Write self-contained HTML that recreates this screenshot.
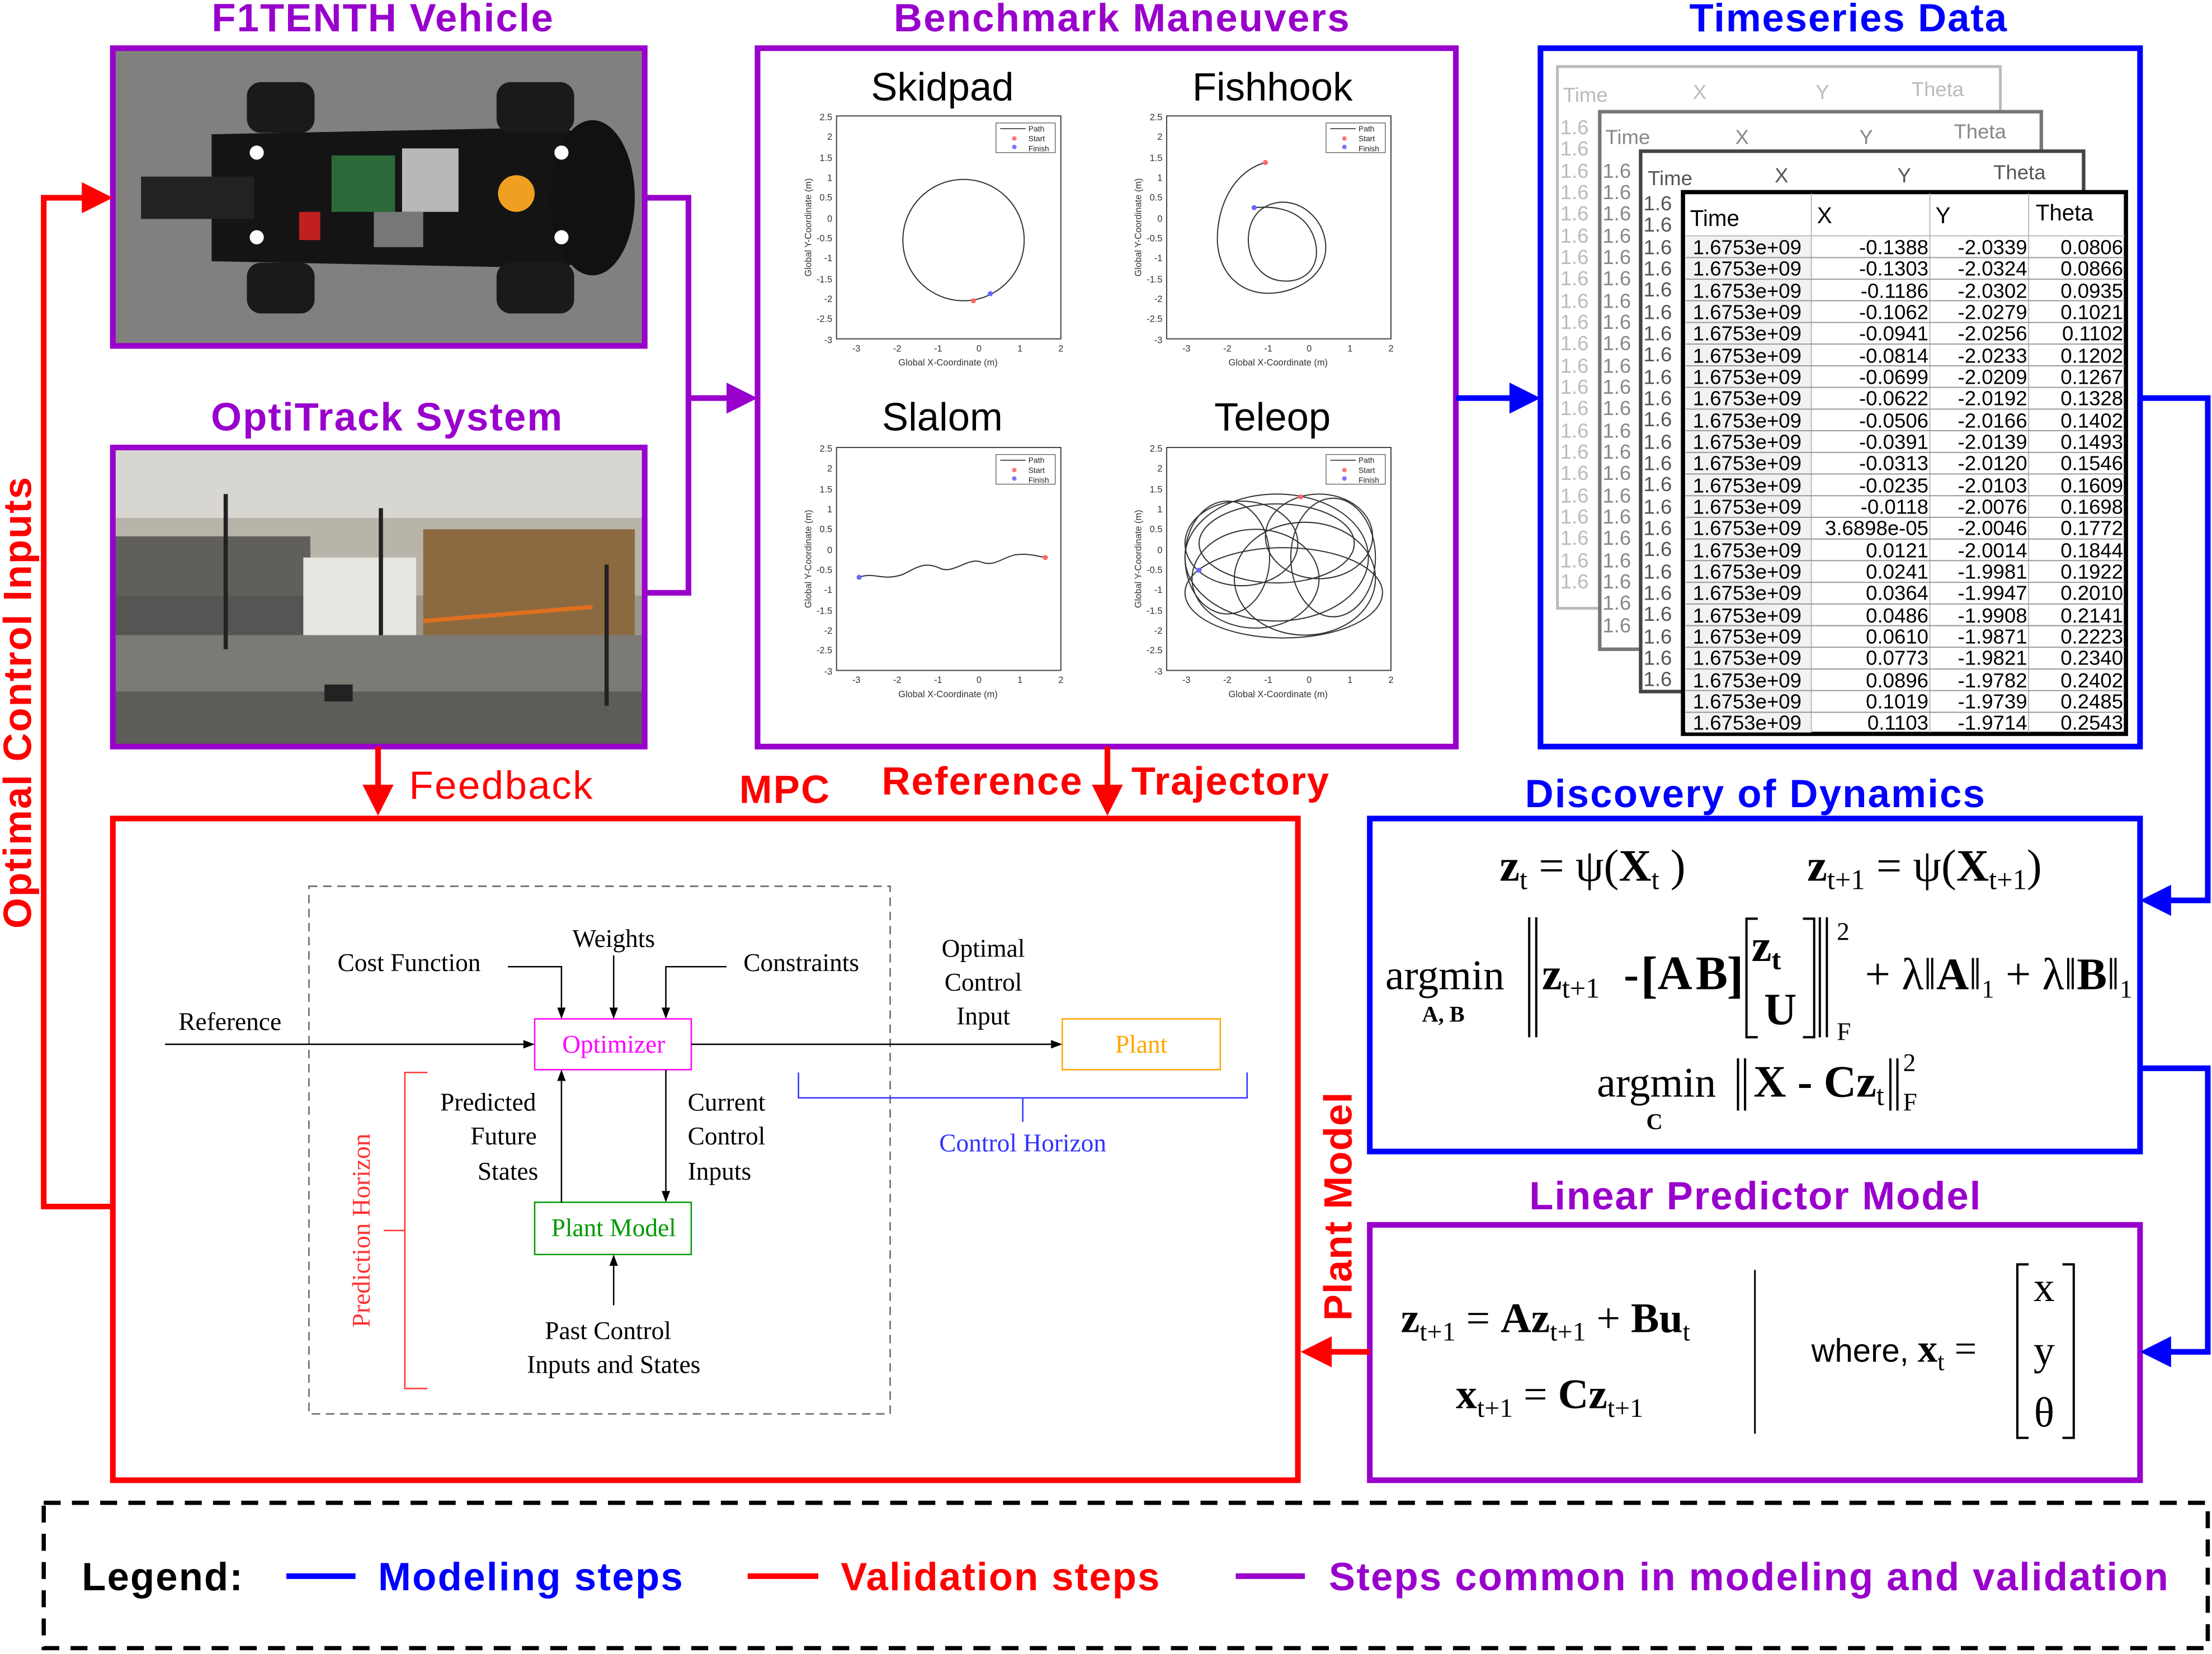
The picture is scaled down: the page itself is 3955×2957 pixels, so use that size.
<!DOCTYPE html>
<html><head><meta charset="utf-8">
<style>
html,body{margin:0;padding:0;background:#fff;}
svg{display:block;}
.t{font-family:"Liberation Sans",sans-serif;font-weight:bold;font-size:28px;text-anchor:middle;}
.s{font-family:"Liberation Serif",serif;}
.m{font-family:"Liberation Serif",serif;font-size:18px;}
.tb{font-family:"Liberation Sans",sans-serif;font-size:14.5px;}
.ax{font-family:"Liberation Sans",sans-serif;font-size:6.5px;fill:#333;}
</style></head>
<body>
<svg width="3955" height="2957" viewBox="0 0 1568 1172" xmlns="http://www.w3.org/2000/svg">
<rect width="1568" height="1172" fill="#fff"/>

<!-- Titles -->
<text class="t" x="271" y="22" fill="#9900cc" textLength="242">F1TENTH Vehicle</text>
<text class="t" x="274" y="305" fill="#9900cc" textLength="249">OptiTrack System</text>
<text class="t" x="795" y="22" fill="#9900cc" textLength="323">Benchmark Maneuvers</text>
<text class="t" x="1310" y="22" fill="#0000ff" textLength="225">Timeseries Data</text>
<text class="t" x="1244" y="572" fill="#0000ff" textLength="326">Discovery of Dynamics</text>
<text class="t" x="1244" y="857" fill="#9900cc" textLength="320">Linear Predictor Model</text>
<text class="t" x="556" y="569" fill="#ff0000" textLength="64">MPC</text>
<text x="290" y="566" fill="#ff0000" font-family="Liberation Sans,sans-serif" font-size="28" textLength="130">Feedback</text>
<text x="625" y="563" fill="#ff0000" font-family="Liberation Sans,sans-serif" font-weight="bold" font-size="28" textLength="142">Reference</text>
<text x="802" y="563" fill="#ff0000" font-family="Liberation Sans,sans-serif" font-weight="bold" font-size="28" textLength="140">Trajectory</text>
<text class="t" transform="translate(958,855) rotate(-90)" fill="#ff0000" textLength="162">Plant Model</text>
<text class="t" transform="translate(22,498) rotate(-90)" fill="#ff0000" textLength="320">Optimal Control Inputs</text>

<!-- F1TENTH photo -->
<g>
<rect x="80" y="34" width="377" height="211" fill="#8a8987"/>
<rect x="80" y="34" width="377" height="211" fill="#6f6e6c" opacity="0.3"/>
<path d="M150 95 L400 90 L445 115 L445 165 L400 190 L150 185 Z" fill="#141414"/>
<ellipse cx="420" cy="140" rx="30" ry="55" fill="#111"/>
<rect x="175" y="58" width="48" height="36" rx="10" fill="#1a1a1a"/>
<rect x="352" y="58" width="55" height="36" rx="10" fill="#1a1a1a"/>
<rect x="175" y="186" width="48" height="36" rx="10" fill="#1a1a1a"/>
<rect x="352" y="186" width="55" height="36" rx="10" fill="#1a1a1a"/>
<rect x="100" y="125" width="80" height="30" fill="#222"/>
<rect x="235" y="110" width="45" height="40" fill="#2d6a3a"/>
<rect x="285" y="105" width="40" height="45" fill="#b8b8b8"/>
<rect x="265" y="150" width="35" height="25" fill="#777"/>
<circle cx="366" cy="137" r="13" fill="#f0a020"/>
<circle cx="182" cy="108" r="5" fill="#fff"/><circle cx="182" cy="168" r="5" fill="#fff"/>
<circle cx="398" cy="108" r="5" fill="#fff"/><circle cx="398" cy="168" r="5" fill="#fff"/>
<rect x="212" y="150" width="15" height="20" fill="#c02020"/>
</g>
<rect x="80" y="34" width="377" height="211" fill="none" stroke="#9900cc" stroke-width="4"/>

<!-- OptiTrack photo -->
<g>
<rect x="80" y="317" width="377" height="212" fill="#9a958c"/>
<rect x="80" y="317" width="377" height="50" fill="#d8d6d0"/>
<rect x="80" y="367" width="377" height="55" fill="#b9b4aa"/>
<rect x="80" y="380" width="140" height="70" fill="#3a3a3a" opacity="0.7"/>
<rect x="300" y="375" width="150" height="90" fill="#8c6a40"/>
<rect x="215" y="395" width="80" height="55" fill="#e8e6e0"/>
<rect x="80" y="450" width="377" height="79" fill="#7c7a75"/>
<rect x="80" y="490" width="377" height="39" fill="#5e5c58"/>
<rect x="230" y="485" width="20" height="12" fill="#222"/>
<line x1="160" y1="350" x2="160" y2="460" stroke="#222" stroke-width="3"/>
<line x1="430" y1="400" x2="430" y2="500" stroke="#222" stroke-width="3"/>
<line x1="270" y1="360" x2="270" y2="450" stroke="#222" stroke-width="3"/>
<line x1="300" y1="440" x2="420" y2="430" stroke="#e07020" stroke-width="3"/>
</g>
<rect x="80" y="317" width="377" height="212" fill="none" stroke="#9900cc" stroke-width="4"/>

<!-- Benchmark box -->
<rect x="537" y="34" width="495" height="495" fill="#fff" stroke="#9900cc" stroke-width="4"/>
<g font-family="Liberation Sans,sans-serif" font-size="28" text-anchor="middle">
<text x="668" y="71">Skidpad</text><text x="902" y="71">Fishhook</text>
<text x="668" y="305">Slalom</text><text x="902" y="305">Teleop</text>
</g>
<g fill="none" stroke="#444" stroke-width="0.8">
<rect x="593" y="82" width="159" height="158"/>
<rect x="827" y="82" width="159" height="158"/>
<rect x="593" y="317" width="159" height="158"/>
<rect x="827" y="317" width="159" height="158"/>
</g>
<g class="ax" text-anchor="middle">
<text x="607" y="249">-3</text><text x="636" y="249">-2</text><text x="665" y="249">-1</text><text x="694" y="249">0</text><text x="723" y="249">1</text><text x="752" y="249">2</text>
<text x="672" y="259">Global X-Coordinate (m)</text>
<text x="841" y="249">-3</text><text x="870" y="249">-2</text><text x="899" y="249">-1</text><text x="928" y="249">0</text><text x="957" y="249">1</text><text x="986" y="249">2</text>
<text x="906" y="259">Global X-Coordinate (m)</text>
<text x="607" y="484">-3</text><text x="636" y="484">-2</text><text x="665" y="484">-1</text><text x="694" y="484">0</text><text x="723" y="484">1</text><text x="752" y="484">2</text>
<text x="672" y="494">Global X-Coordinate (m)</text>
<text x="841" y="484">-3</text><text x="870" y="484">-2</text><text x="899" y="484">-1</text><text x="928" y="484">0</text><text x="957" y="484">1</text><text x="986" y="484">2</text>
<text x="906" y="494">Global X-Coordinate (m)</text>
<text transform="translate(575,161) rotate(-90)">Global Y-Coordinate (m)</text>
<text transform="translate(809,161) rotate(-90)">Global Y-Coordinate (m)</text>
<text transform="translate(575,396) rotate(-90)">Global Y-Coordinate (m)</text>
<text transform="translate(809,396) rotate(-90)">Global Y-Coordinate (m)</text>
</g>
<g class="ax" text-anchor="end">
<text x="590" y="85">2.5</text><text x="590" y="99">2</text><text x="590" y="114">1.5</text><text x="590" y="128">1</text><text x="590" y="142">0.5</text><text x="590" y="157">0</text><text x="590" y="171">-0.5</text><text x="590" y="185">-1</text><text x="590" y="200">-1.5</text><text x="590" y="214">-2</text><text x="590" y="228">-2.5</text><text x="590" y="243">-3</text>
<text x="824" y="85">2.5</text><text x="824" y="99">2</text><text x="824" y="114">1.5</text><text x="824" y="128">1</text><text x="824" y="142">0.5</text><text x="824" y="157">0</text><text x="824" y="171">-0.5</text><text x="824" y="185">-1</text><text x="824" y="200">-1.5</text><text x="824" y="214">-2</text><text x="824" y="228">-2.5</text><text x="824" y="243">-3</text>
<text x="590" y="320">2.5</text><text x="590" y="334">2</text><text x="590" y="349">1.5</text><text x="590" y="363">1</text><text x="590" y="377">0.5</text><text x="590" y="392">0</text><text x="590" y="406">-0.5</text><text x="590" y="420">-1</text><text x="590" y="435">-1.5</text><text x="590" y="449">-2</text><text x="590" y="463">-2.5</text><text x="590" y="478">-3</text>
<text x="824" y="320">2.5</text><text x="824" y="334">2</text><text x="824" y="349">1.5</text><text x="824" y="363">1</text><text x="824" y="377">0.5</text><text x="824" y="392">0</text><text x="824" y="406">-0.5</text><text x="824" y="420">-1</text><text x="824" y="435">-1.5</text><text x="824" y="449">-2</text><text x="824" y="463">-2.5</text><text x="824" y="478">-3</text>
</g>
<g font-family="Liberation Sans,sans-serif" font-size="5.5" fill="#222">
<g><rect x="706" y="87" width="42" height="21" fill="#fff" stroke="#555" stroke-width="0.5"/><line x1="709" y1="91" x2="727" y2="91" stroke="#222" stroke-width="0.6"/><text x="729" y="93">Path</text><circle cx="719" cy="98" r="1.6" fill="#f77"/><text x="729" y="100">Start</text><circle cx="719" cy="104" r="1.6" fill="#77f"/><text x="729" y="107">Finish</text></g>
<g transform="translate(234,0)"><rect x="706" y="87" width="42" height="21" fill="#fff" stroke="#555" stroke-width="0.5"/><line x1="709" y1="91" x2="727" y2="91" stroke="#222" stroke-width="0.6"/><text x="729" y="93">Path</text><circle cx="719" cy="98" r="1.6" fill="#f77"/><text x="729" y="100">Start</text><circle cx="719" cy="104" r="1.6" fill="#77f"/><text x="729" y="107">Finish</text></g>
<g transform="translate(0,235)"><rect x="706" y="87" width="42" height="21" fill="#fff" stroke="#555" stroke-width="0.5"/><line x1="709" y1="91" x2="727" y2="91" stroke="#222" stroke-width="0.6"/><text x="729" y="93">Path</text><circle cx="719" cy="98" r="1.6" fill="#f77"/><text x="729" y="100">Start</text><circle cx="719" cy="104" r="1.6" fill="#77f"/><text x="729" y="107">Finish</text></g>
<g transform="translate(234,235)"><rect x="706" y="87" width="42" height="21" fill="#fff" stroke="#555" stroke-width="0.5"/><line x1="709" y1="91" x2="727" y2="91" stroke="#222" stroke-width="0.6"/><text x="729" y="93">Path</text><circle cx="719" cy="98" r="1.6" fill="#f77"/><text x="729" y="100">Start</text><circle cx="719" cy="104" r="1.6" fill="#77f"/><text x="729" y="107">Finish</text></g>
</g>
<g fill="none" stroke="#333" stroke-width="0.8">
<circle cx="683" cy="170" r="43"/>
<path d="M897 115 C872 122 862 150 863 172 C865 200 888 214 915 205 C938 197 945 178 936 160 C926 142 905 138 892 150 C878 165 885 198 910 199 C926 200 937 188 932 170 C927 153 912 145 889 147"/>
<path d="M609 409 C620 405 625 412 640 407 C650 402 655 398 665 402 C675 408 685 395 695 398 C705 402 710 395 720 393 C730 392 735 394 741 395"/>
<ellipse cx="880" cy="385" rx="40" ry="30"/><ellipse cx="935" cy="380" rx="38" ry="30"/>
<ellipse cx="905" cy="395" rx="65" ry="45"/><ellipse cx="890" cy="410" rx="45" ry="35"/>
<ellipse cx="925" cy="410" rx="50" ry="40"/><ellipse cx="870" cy="395" rx="30" ry="40"/>
<ellipse cx="945" cy="395" rx="30" ry="42"/><ellipse cx="905" cy="385" rx="55" ry="28"/>
<ellipse cx="910" cy="420" rx="70" ry="32"/>
</g>
<g>
<circle cx="690" cy="213" r="1.8" fill="#f66"/><circle cx="702" cy="208" r="1.8" fill="#66f"/>
<circle cx="897" cy="115" r="1.8" fill="#f66"/><circle cx="889" cy="147" r="1.8" fill="#66f"/>
<circle cx="741" cy="395" r="1.8" fill="#f66"/><circle cx="609" cy="409" r="1.8" fill="#66f"/>
<circle cx="922" cy="352" r="1.8" fill="#f66"/><circle cx="850" cy="404" r="1.8" fill="#66f"/>
</g>

<!-- Timeseries box -->
<rect x="1092" y="34" width="425" height="495" fill="#fff" stroke="#0000ff" stroke-width="4"/>
<rect x="1104" y="47" width="314" height="384" fill="#fff" stroke="#bbb" stroke-width="2"/>
<g class="tb" fill="#bbb"><text x="1108" y="72">Time</text><text x="1200" y="70">X</text><text x="1287" y="70">Y</text><text x="1355" y="68">Theta</text>
<text x="1106" y="95">1.6</text><text x="1106" y="110">1.6</text><text x="1106" y="126">1.6</text><text x="1106" y="141">1.6</text><text x="1106" y="156">1.6</text><text x="1106" y="172">1.6</text><text x="1106" y="187">1.6</text><text x="1106" y="202">1.6</text><text x="1106" y="218">1.6</text><text x="1106" y="233">1.6</text><text x="1106" y="248">1.6</text><text x="1106" y="264">1.6</text><text x="1106" y="279">1.6</text><text x="1106" y="294">1.6</text><text x="1106" y="310">1.6</text><text x="1106" y="325">1.6</text><text x="1106" y="340">1.6</text><text x="1106" y="356">1.6</text><text x="1106" y="371">1.6</text><text x="1106" y="386">1.6</text><text x="1106" y="402">1.6</text><text x="1106" y="417">1.6</text>
<text x="1140" y="95">753e+09</text><text x="1230" y="95">-0.1388</text><text x="1295" y="95">-2.0339</text><text x="1370" y="95">0.0806</text></g>
<rect x="1134" y="79" width="313" height="381" fill="#fff" stroke="#777" stroke-width="2.5"/>
<g class="tb" fill="#888"><text x="1138" y="102">Time</text><text x="1230" y="102">X</text><text x="1318" y="102">Y</text><text x="1385" y="98">Theta</text>
<text x="1136" y="126">1.6</text><text x="1136" y="141">1.6</text><text x="1136" y="156">1.6</text><text x="1136" y="172">1.6</text><text x="1136" y="187">1.6</text><text x="1136" y="202">1.6</text><text x="1136" y="218">1.6</text><text x="1136" y="233">1.6</text><text x="1136" y="248">1.6</text><text x="1136" y="264">1.6</text><text x="1136" y="279">1.6</text><text x="1136" y="294">1.6</text><text x="1136" y="310">1.6</text><text x="1136" y="325">1.6</text><text x="1136" y="340">1.6</text><text x="1136" y="356">1.6</text><text x="1136" y="371">1.6</text><text x="1136" y="386">1.6</text><text x="1136" y="402">1.6</text><text x="1136" y="417">1.6</text><text x="1136" y="432">1.6</text><text x="1136" y="448">1.6</text>
<text x="1170" y="126">753e+09</text><text x="1260" y="126">-0.1388</text><text x="1325" y="126">-2.0339</text></g>
<rect x="1163" y="107" width="314" height="383" fill="#fff" stroke="#444" stroke-width="2.5"/>
<g class="tb" fill="#555"><text x="1168" y="131">Time</text><text x="1258" y="129">X</text><text x="1345" y="129">Y</text><text x="1413" y="127">Theta</text>
<text x="1165" y="149">1.6</text><text x="1165" y="164">1.6</text><text x="1165" y="180">1.6</text><text x="1165" y="195">1.6</text><text x="1165" y="210">1.6</text><text x="1165" y="226">1.6</text><text x="1165" y="241">1.6</text><text x="1165" y="256">1.6</text><text x="1165" y="272">1.6</text><text x="1165" y="287">1.6</text><text x="1165" y="302">1.6</text><text x="1165" y="318">1.6</text><text x="1165" y="333">1.6</text><text x="1165" y="348">1.6</text><text x="1165" y="364">1.6</text><text x="1165" y="379">1.6</text><text x="1165" y="394">1.6</text><text x="1165" y="410">1.6</text><text x="1165" y="425">1.6</text><text x="1165" y="440">1.6</text><text x="1165" y="456">1.6</text><text x="1165" y="471">1.6</text><text x="1165" y="486">1.6</text></g>
<rect x="1193" y="136" width="314" height="384" fill="#fff" stroke="#000" stroke-width="3"/>
<rect x="1195" y="167" width="89" height="352" fill="#f2f2f2"/>
<g stroke="#bbb" stroke-width="0.8">
<line x1="1284" y1="137" x2="1284" y2="519"/><line x1="1368" y1="137" x2="1368" y2="519"/><line x1="1438" y1="137" x2="1438" y2="519"/>
<line x1="1195" y1="167" x2="1506" y2="167"/>
</g>
<g stroke="#999" stroke-width="0.8">
<line x1="1195" y1="182.4" x2="1506" y2="182.4"/><line x1="1195" y1="197.7" x2="1506" y2="197.7"/><line x1="1195" y1="213" x2="1506" y2="213"/><line x1="1195" y1="228.4" x2="1506" y2="228.4"/><line x1="1195" y1="243.7" x2="1506" y2="243.7"/><line x1="1195" y1="259.1" x2="1506" y2="259.1"/><line x1="1195" y1="274.4" x2="1506" y2="274.4"/><line x1="1195" y1="289.8" x2="1506" y2="289.8"/><line x1="1195" y1="305.1" x2="1506" y2="305.1"/><line x1="1195" y1="320.5" x2="1506" y2="320.5"/><line x1="1195" y1="335.8" x2="1506" y2="335.8"/><line x1="1195" y1="351.2" x2="1506" y2="351.2"/><line x1="1195" y1="366.5" x2="1506" y2="366.5"/><line x1="1195" y1="381.9" x2="1506" y2="381.9"/><line x1="1195" y1="397.2" x2="1506" y2="397.2"/><line x1="1195" y1="412.6" x2="1506" y2="412.6"/><line x1="1195" y1="427.9" x2="1506" y2="427.9"/><line x1="1195" y1="443.3" x2="1506" y2="443.3"/><line x1="1195" y1="458.6" x2="1506" y2="458.6"/><line x1="1195" y1="474" x2="1506" y2="474"/><line x1="1195" y1="489.3" x2="1506" y2="489.3"/><line x1="1195" y1="504.7" x2="1506" y2="504.7"/>
</g>
<g class="tb" fill="#000">
<text x="1198" y="160" font-size="16">Time</text><text x="1288" y="158" font-size="16">X</text><text x="1372" y="158" font-size="16">Y</text><text x="1443" y="156" font-size="16">Theta</text>
</g>
<g class="tb" fill="#000">
<g><text x="1200" y="180">1.6753e+09</text><text x="1200" y="195">1.6753e+09</text><text x="1200" y="211">1.6753e+09</text><text x="1200" y="226">1.6753e+09</text><text x="1200" y="241">1.6753e+09</text><text x="1200" y="257">1.6753e+09</text><text x="1200" y="272">1.6753e+09</text><text x="1200" y="287">1.6753e+09</text><text x="1200" y="303">1.6753e+09</text><text x="1200" y="318">1.6753e+09</text><text x="1200" y="333">1.6753e+09</text><text x="1200" y="349">1.6753e+09</text><text x="1200" y="364">1.6753e+09</text><text x="1200" y="379">1.6753e+09</text><text x="1200" y="395">1.6753e+09</text><text x="1200" y="410">1.6753e+09</text><text x="1200" y="425">1.6753e+09</text><text x="1200" y="441">1.6753e+09</text><text x="1200" y="456">1.6753e+09</text><text x="1200" y="471">1.6753e+09</text><text x="1200" y="487">1.6753e+09</text><text x="1200" y="502">1.6753e+09</text><text x="1200" y="517">1.6753e+09</text></g>
<g text-anchor="end"><text x="1367" y="180">-0.1388</text><text x="1367" y="195">-0.1303</text><text x="1367" y="211">-0.1186</text><text x="1367" y="226">-0.1062</text><text x="1367" y="241">-0.0941</text><text x="1367" y="257">-0.0814</text><text x="1367" y="272">-0.0699</text><text x="1367" y="287">-0.0622</text><text x="1367" y="303">-0.0506</text><text x="1367" y="318">-0.0391</text><text x="1367" y="333">-0.0313</text><text x="1367" y="349">-0.0235</text><text x="1367" y="364">-0.0118</text><text x="1367" y="379">3.6898e-05</text><text x="1367" y="395">0.0121</text><text x="1367" y="410">0.0241</text><text x="1367" y="425">0.0364</text><text x="1367" y="441">0.0486</text><text x="1367" y="456">0.0610</text><text x="1367" y="471">0.0773</text><text x="1367" y="487">0.0896</text><text x="1367" y="502">0.1019</text><text x="1367" y="517">0.1103</text></g>
<g text-anchor="end"><text x="1437" y="180">-2.0339</text><text x="1437" y="195">-2.0324</text><text x="1437" y="211">-2.0302</text><text x="1437" y="226">-2.0279</text><text x="1437" y="241">-2.0256</text><text x="1437" y="257">-2.0233</text><text x="1437" y="272">-2.0209</text><text x="1437" y="287">-2.0192</text><text x="1437" y="303">-2.0166</text><text x="1437" y="318">-2.0139</text><text x="1437" y="333">-2.0120</text><text x="1437" y="349">-2.0103</text><text x="1437" y="364">-2.0076</text><text x="1437" y="379">-2.0046</text><text x="1437" y="395">-2.0014</text><text x="1437" y="410">-1.9981</text><text x="1437" y="425">-1.9947</text><text x="1437" y="441">-1.9908</text><text x="1437" y="456">-1.9871</text><text x="1437" y="471">-1.9821</text><text x="1437" y="487">-1.9782</text><text x="1437" y="502">-1.9739</text><text x="1437" y="517">-1.9714</text></g>
<g text-anchor="end"><text x="1505" y="180">0.0806</text><text x="1505" y="195">0.0866</text><text x="1505" y="211">0.0935</text><text x="1505" y="226">0.1021</text><text x="1505" y="241">0.1102</text><text x="1505" y="257">0.1202</text><text x="1505" y="272">0.1267</text><text x="1505" y="287">0.1328</text><text x="1505" y="303">0.1402</text><text x="1505" y="318">0.1493</text><text x="1505" y="333">0.1546</text><text x="1505" y="349">0.1609</text><text x="1505" y="364">0.1698</text><text x="1505" y="379">0.1772</text><text x="1505" y="395">0.1844</text><text x="1505" y="410">0.1922</text><text x="1505" y="425">0.2010</text><text x="1505" y="441">0.2141</text><text x="1505" y="456">0.2223</text><text x="1505" y="471">0.2340</text><text x="1505" y="487">0.2402</text><text x="1505" y="502">0.2485</text><text x="1505" y="517">0.2543</text></g>
</g>

<!-- Discovery box -->
<rect x="971" y="580" width="546" height="236" fill="#fff" stroke="#0000ff" stroke-width="4"/>
<g class="s" font-size="32" fill="#000">
<text x="1063" y="624"><tspan font-weight="bold">z</tspan><tspan font-size="20" dy="6">t</tspan><tspan dy="-6"> = ψ(</tspan><tspan font-weight="bold">X</tspan><tspan font-size="20" dy="6">t</tspan><tspan dy="-6"> )</tspan></text>
<text x="1281" y="624"><tspan font-weight="bold">z</tspan><tspan font-size="20" dy="6">t+1</tspan><tspan dy="-6"> = ψ(</tspan><tspan font-weight="bold">X</tspan><tspan font-size="20" dy="6">t+1</tspan><tspan dy="-6">)</tspan></text>
<text x="982" y="701" font-size="30">argmin</text>
<text x="1008" y="724" font-size="16" font-weight="bold">A, B</text>
<text x="1093" y="701"><tspan font-weight="bold">z</tspan><tspan font-size="20" dy="6">t+1</tspan></text>
<text x="1151" y="701" font-weight="bold">-</text>
<text x="1163" y="703" font-weight="bold" font-size="36">[</text>
<text x="1175" y="701" font-weight="bold" font-size="34">A</text>
<text x="1202" y="701" font-weight="bold" font-size="34">B</text>
<text x="1224" y="703" font-weight="bold" font-size="36">]</text>
<text x="1252" y="681" font-weight="bold" text-anchor="middle">z<tspan font-size="20" dy="6">t</tspan></text>
<text x="1262" y="726" font-weight="bold" text-anchor="middle">U</text>
<text x="1302" y="666" font-size="18">2</text>
<text x="1302" y="737" font-size="18">F</text>
<text x="1322" y="701">+ λ‖<tspan font-weight="bold">A</tspan>‖<tspan font-size="18" dy="6">1</tspan><tspan dy="-6"> + λ‖</tspan><tspan font-weight="bold">B</tspan>‖<tspan font-size="18" dy="6">1</tspan></text>
<text x="1132" y="777" font-size="30">argmin</text>
<text x="1167" y="800" font-size="16" font-weight="bold">C</text>
<text x="1243" y="777"><tspan font-weight="bold">X - Cz</tspan><tspan font-size="20" dy="6">t</tspan></text>
<text x="1349" y="759" font-size="18">2</text>
<text x="1349" y="787" font-size="18">F</text>
</g>
<g stroke="#000" stroke-width="1.6" fill="none">
<line x1="1084" y1="650" x2="1084" y2="735"/><line x1="1089" y1="650" x2="1089" y2="735"/>
<line x1="1290" y1="650" x2="1290" y2="735"/><line x1="1295" y1="650" x2="1295" y2="735"/>
<path d="M1246 651 H1238 V735 H1246"/><path d="M1278 651 H1286 V735 H1278"/>
<line x1="1232" y1="750" x2="1232" y2="787"/><line x1="1237" y1="750" x2="1237" y2="787"/>
<line x1="1340" y1="750" x2="1340" y2="787"/><line x1="1345" y1="750" x2="1345" y2="787"/>
</g>

<!-- Linear predictor box -->
<rect x="971" y="868" width="546" height="181" fill="#fff" stroke="#9900cc" stroke-width="4"/>
<g class="s" font-size="30" fill="#000">
<text x="993" y="944"><tspan font-weight="bold">z</tspan><tspan font-size="19" dy="6">t+1</tspan><tspan dy="-6"> = </tspan><tspan font-weight="bold">Az</tspan><tspan font-size="19" dy="6">t+1</tspan><tspan dy="-6"> + </tspan><tspan font-weight="bold">Bu</tspan><tspan font-size="19" dy="6">t</tspan></text>
<text x="1032" y="998"><tspan font-weight="bold">x</tspan><tspan font-size="19" dy="6">t+1</tspan><tspan dy="-6"> = </tspan><tspan font-weight="bold">Cz</tspan><tspan font-size="19" dy="6">t+1</tspan></text>
<text x="1449" y="922" text-anchor="middle">x</text>
<text x="1449" y="967" text-anchor="middle">y</text>
<text x="1449" y="1011" text-anchor="middle">θ</text>
</g>
<text x="1284" y="965" font-family="Liberation Sans,sans-serif" font-size="23">where, <tspan font-family="Liberation Serif,serif" font-weight="bold" font-size="28">x</tspan><tspan font-family="Liberation Serif,serif" font-size="18" dy="6">t</tspan><tspan font-family="Liberation Serif,serif" font-size="28" dy="-6"> =</tspan></text>
<line x1="1244" y1="900" x2="1244" y2="1016" stroke="#000" stroke-width="1.2"/>
<g stroke="#000" stroke-width="1.6" fill="none"><path d="M1438 896 H1430 V1019 H1438"/><path d="M1462 896 H1470 V1019 H1462"/></g>

<!-- MPC box -->
<rect x="80" y="580" width="840" height="469" fill="#fff" stroke="#ff0000" stroke-width="4"/>
<rect x="219" y="628" width="412" height="374" fill="none" stroke="#666" stroke-width="1" stroke-dasharray="6,4"/>
<g class="m" fill="#000" text-anchor="middle">
<text x="435" y="671">Weights</text>
<text x="290" y="688">Cost Function</text>
<text x="568" y="688">Constraints</text>
<text x="163" y="730">Reference</text>
<text x="697" y="678">Optimal</text><text x="697" y="702">Control</text><text x="697" y="726">Input</text>
<text x="346" y="787">Predicted</text><text x="357" y="811">Future</text><text x="360" y="836">States</text>
<text x="515" y="787">Current</text><text x="515" y="811">Control</text><text x="510" y="836">Inputs</text>
<text x="431" y="949">Past Control</text><text x="435" y="973">Inputs and States</text>
<text x="435" y="746" fill="#ff00ff">Optimizer</text>
<text x="809" y="746" fill="#ffa500">Plant</text>
<text x="435" y="876" fill="#009900">Plant Model</text>
<text x="725" y="816" fill="#3333ff">Control Horizon</text>
<text transform="translate(262,872) rotate(-90)" fill="#ff3333">Prediction Horizon</text>
</g>
<rect x="379" y="722" width="111" height="36" fill="none" stroke="#ff00ff" stroke-width="1"/>
<rect x="753" y="722" width="112" height="36" fill="none" stroke="#ffa500" stroke-width="1"/>
<rect x="379" y="852" width="111" height="37" fill="none" stroke="#009900" stroke-width="1"/>
<g stroke="#000" stroke-width="1" fill="none">
<polyline points="360,685 398,685 398,716"/>
<line x1="435" y1="677" x2="435" y2="716"/>
<polyline points="515,685 472,685 472,716"/>
<line x1="117" y1="740" x2="373" y2="740"/>
<line x1="490" y1="740" x2="747" y2="740"/>
<line x1="398" y1="852" x2="398" y2="764"/>
<line x1="472" y1="758" x2="472" y2="846"/>
<line x1="435" y1="925" x2="435" y2="895"/>
</g>
<g fill="#000">
<polygon points="398,722 395,714 401,714"/><polygon points="435,722 432,714 438,714"/><polygon points="472,722 469,714 475,714"/>
<polygon points="379,740 371,737 371,743"/><polygon points="753,740 745,737 745,743"/>
<polygon points="398,758 395,766 401,766"/><polygon points="472,852 469,844 475,844"/><polygon points="435,889 432,897 438,897"/>
</g>
<g fill="none" stroke-width="1">
<polyline points="566,760 566,778 884,778 884,760" stroke="#3333ff"/>
<line x1="725" y1="778" x2="725" y2="795" stroke="#3333ff"/>
<polyline points="303,760 287,760 287,984 303,984" stroke="#ff3333"/>
<line x1="287" y1="872" x2="272" y2="872" stroke="#ff3333"/>
</g>

<!-- Connectors -->
<g fill="none" stroke-width="4" stroke-linejoin="miter">
<polyline points="457,140 488,140 488,420 457,420" stroke="#9900cc"/>
<line x1="488" y1="282" x2="517" y2="282" stroke="#9900cc"/>
<line x1="1032" y1="282" x2="1072" y2="282" stroke="#0000ff"/>
<polyline points="1517,282 1565,282 1565,638 1537,638" stroke="#0000ff"/>
<polyline points="1517,757 1565,757 1565,958 1537,958" stroke="#0000ff"/>
<line x1="971" y1="958" x2="942" y2="958" stroke="#ff0000"/>
<polyline points="80,855 31,855 31,140 60,140" stroke="#ff0000"/>
<line x1="268" y1="529" x2="268" y2="558" stroke="#ff0000"/>
<line x1="785" y1="529" x2="785" y2="558" stroke="#ff0000"/>
</g>
<g>
<polygon points="537,282 515,271 515,293" fill="#9900cc"/>
<polygon points="1092,282 1070,271 1070,293" fill="#0000ff"/>
<polygon points="1517,638 1539,627 1539,649" fill="#0000ff"/>
<polygon points="1517,958 1539,947 1539,969" fill="#0000ff"/>
<polygon points="922,958 944,947 944,969" fill="#ff0000"/>
<polygon points="80,140 58,129 58,151" fill="#ff0000"/>
<polygon points="268,578 257,556 279,556" fill="#ff0000"/>
<polygon points="785,578 774,556 796,556" fill="#ff0000"/>
</g>

<!-- Legend -->
<rect x="31" y="1065" width="1534" height="103" fill="none" stroke="#000" stroke-width="3" stroke-dasharray="12,8"/>
<g font-family="Liberation Sans,sans-serif" font-weight="bold" font-size="28">
<text x="58" y="1127" fill="#000" textLength="114">Legend:</text>
<text x="268" y="1127" fill="#0000ff" textLength="216">Modeling steps</text>
<text x="596" y="1127" fill="#ff0000" textLength="226">Validation steps</text>
<text x="942" y="1127" fill="#9900cc" textLength="595">Steps common in modeling and validation</text>
</g>
<g stroke-width="4">
<line x1="203" y1="1117" x2="252" y2="1117" stroke="#0000ff"/>
<line x1="530" y1="1117" x2="580" y2="1117" stroke="#ff0000"/>
<line x1="876" y1="1117" x2="925" y2="1117" stroke="#9900cc"/>
</g>
</svg>
</body></html>
